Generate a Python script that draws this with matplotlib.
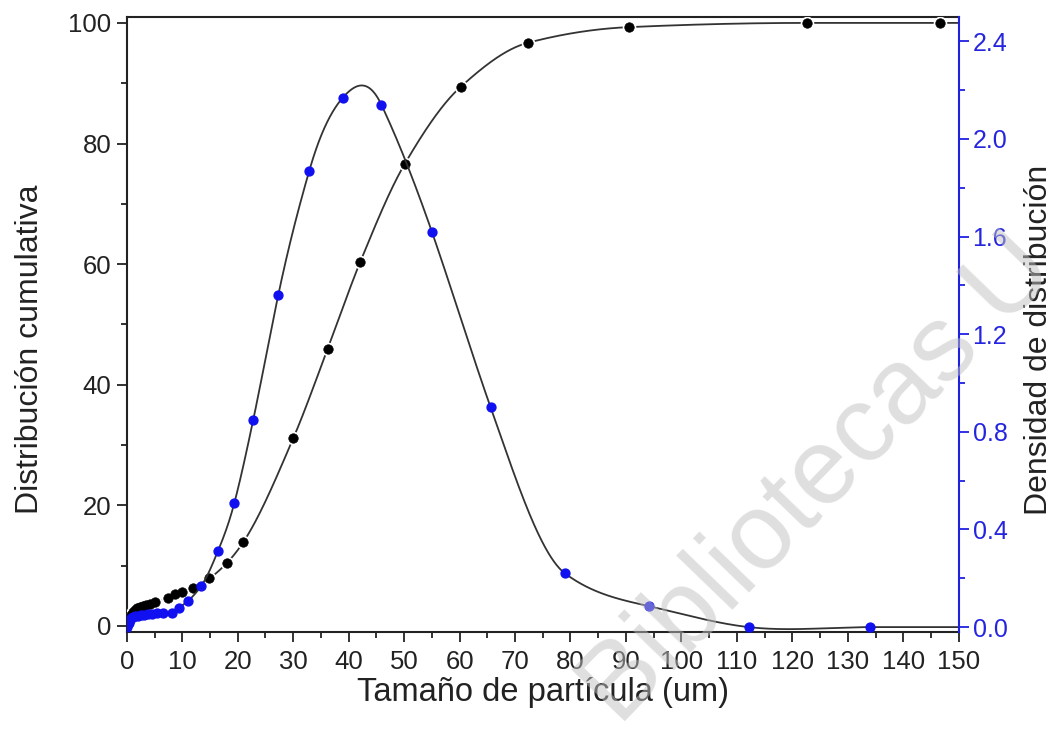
import numpy as np
import matplotlib
matplotlib.use("Agg")
import matplotlib.pyplot as plt
from matplotlib.ticker import MultipleLocator, FormatStrFormatter

# ---------------- data ----------------
cum_x = [0.2, 0.5, 0.8, 1.1, 1.5, 1.9, 2.4, 2.9, 3.5, 4.2, 5.0,
         7.4, 8.7, 10.0, 11.9, 14.9, 18.0, 21.0, 30.0, 36.2, 42.1,
         50.1, 60.2, 72.3, 90.5, 122.6, 146.7]
cum_y = [0.3, 1.2, 1.8, 2.3, 2.6, 2.9, 3.1, 3.3, 3.5, 3.7, 3.9,
         4.6, 5.3, 5.6, 6.3, 7.9, 10.4, 13.9, 31.1, 45.9, 60.4,
         76.6, 89.4, 96.7, 99.3, 100.0, 100.0]

den_x = [0.1, 0.3, 0.5, 0.8, 1.1, 1.5, 2.0, 2.5, 3.1, 3.8, 4.6, 5.5,
         6.5, 8.1, 9.4, 11.0, 13.4, 16.4, 19.4, 22.8, 27.3, 32.9, 38.9,
         45.9, 55.0, 65.6, 79.0, 94.1, 112.1, 134.0]
den_y = [0.0, 0.015, 0.028, 0.036, 0.041, 0.044, 0.046, 0.048, 0.050,
         0.052, 0.054, 0.056, 0.057, 0.058, 0.078, 0.107, 0.168, 0.31,
         0.51, 0.85, 1.36, 1.87, 2.168, 2.14, 1.62, 0.90, 0.22, 0.086,
         0.0, 0.0]

x_ticks = list(range(0, 151, 10))
left_ticks = [0, 20, 40, 60, 80, 100]
right_ticks = [0.0, 0.4, 0.8, 1.2, 1.6, 2.0, 2.4]


# ---------------- interpolation helpers (numpy only) ----------------
def hermite(x, y, m, xs):
    x = np.asarray(x, float); y = np.asarray(y, float)
    n = len(x)
    h = np.diff(x)
    xc = np.clip(xs, x[0], x[-1])
    idx = np.clip(np.searchsorted(x, xc) - 1, 0, n - 2)
    hh = h[idx]; t = (xc - x[idx]) / hh
    h00 = 2 * t**3 - 3 * t**2 + 1; h10 = t**3 - 2 * t**2 + t
    h01 = -2 * t**3 + 3 * t**2; h11 = t**3 - t**2
    return h00 * y[idx] + h10 * hh * m[idx] + h01 * y[idx + 1] + h11 * hh * m[idx + 1]


def akima(x, y, xs):
    x = np.asarray(x, float); y = np.asarray(y, float)
    n = len(x)
    d = np.diff(y) / np.diff(x)
    dd = np.concatenate([[3 * d[0] - 2 * d[1], 2 * d[0] - d[1]], d,
                         [2 * d[-1] - d[-2], 3 * d[-1] - 2 * d[-2]]])
    m = np.zeros(n)
    for i in range(n):
        m1, m2, m3, m4 = dd[i], dd[i + 1], dd[i + 2], dd[i + 3]
        w1 = abs(m4 - m3); w2 = abs(m2 - m1)
        if w1 + w2 < 1e-12:
            m[i] = 0.5 * (m2 + m3)
        else:
            m[i] = (w1 * m2 + w2 * m3) / (w1 + w2)
    m[-1] = 0.0
    return hermite(x, y, m, xs)


def pchip(x, y, xs):
    x = np.asarray(x, float); y = np.asarray(y, float)
    n = len(x)
    h = np.diff(x); d = np.diff(y) / h
    m = np.zeros(n)
    for k in range(1, n - 1):
        if d[k - 1] * d[k] <= 0:
            m[k] = 0
        else:
            w1 = 2 * h[k] + h[k - 1]; w2 = h[k] + 2 * h[k - 1]
            m[k] = (w1 + w2) / (w1 / d[k - 1] + w2 / d[k])
    m[0] = d[0]; m[-1] = 0
    return hermite(x, y, m, xs)


# ---------------- figure ----------------
plt.rcParams['font.family'] = ['Liberation Sans', 'DejaVu Sans']
fig = plt.figure(figsize=(10.57, 7.34), dpi=100)
ax = fig.add_axes([0.120, 0.139, 0.787, 0.838])
ax2 = ax.twinx()

xs_c = np.linspace(min(cum_x), 150, 1500)
ys_c = pchip(cum_x, cum_y, xs_c)
ax.plot(xs_c, ys_c, color='#333333', lw=1.3, zorder=2)
ax.plot(cum_x, cum_y, 'o', color='black', ms=6.8, mec='white', mew=3.0, zorder=3)
ax.plot(cum_x, cum_y, 'o', color='black', ms=6.8, mec='black', mew=0.5, zorder=4)

xs_d = np.linspace(min(den_x), 150, 1500)
ys_d = akima(den_x, den_y, xs_d)
ax2.plot(xs_d, ys_d, color='#333333', lw=1.3, zorder=2)
ax2.plot(den_x, den_y, 'o', color='#1010f0', ms=6.4, mec='#1010f0', zorder=3)

ax.set_xlim(0, 150)
ax.set_ylim(-1, 101)
ax2.set_ylim(-0.02, 2.50)

ax.set_xticks(x_ticks)
ax.xaxis.set_minor_locator(MultipleLocator(5))
ax.set_yticks(left_ticks)
ax.yaxis.set_minor_locator(MultipleLocator(10))
ax2.set_yticks(right_ticks)
ax2.yaxis.set_minor_locator(MultipleLocator(0.2))
ax2.yaxis.set_major_formatter(FormatStrFormatter('%.1f'))

tick_col = '#222222'
ax.tick_params(axis='both', which='major', direction='out', length=7, width=1.3,
               labelsize=18.5, color=tick_col, labelcolor='#222222', pad=4)
ax.tick_params(axis='x', which='major', pad=6)
ax.tick_params(axis='both', which='minor', direction='out', length=4, width=1.3, color=tick_col)
ax2.tick_params(axis='y', which='major', direction='out', length=7, width=1.3,
                labelsize=18, color='#2020e0', labelcolor='#2525e0', pad=3)
ax2.tick_params(axis='y', which='minor', direction='out', length=4, width=1.3, color='#2020e0')

for s in ['left', 'bottom', 'top']:
    ax.spines[s].set_linewidth(1.5)
    ax.spines[s].set_color('#222222')
ax2.spines['right'].set_color('#2020e0')
ax2.spines['right'].set_linewidth(1.5)
ax.spines['right'].set_visible(False)
for s in ['left', 'bottom', 'top']:
    ax2.spines[s].set_visible(False)

ax.set_xlabel('Tamaño de partícula (um)', fontsize=23.5, color='#222222')
ax.xaxis.set_label_coords(0.5, -0.074)
ax.set_ylabel('Distribución cumulativa', fontsize=23, color='#222222')
ax.yaxis.set_label_coords(-0.098, 0.459)
ax2.set_ylabel('Densidad de distribución', fontsize=23, color='#222222')
ax2.yaxis.set_label_coords(1.079, 0.475)

# watermark of the source document
fig.text(0.775, 0.345, 'Bibliotecas U', fontsize=78, rotation=46, color='#c0c0c0',
         alpha=0.5, ha='center', va='center', zorder=10)

fig.savefig('out.png', dpi=100)
